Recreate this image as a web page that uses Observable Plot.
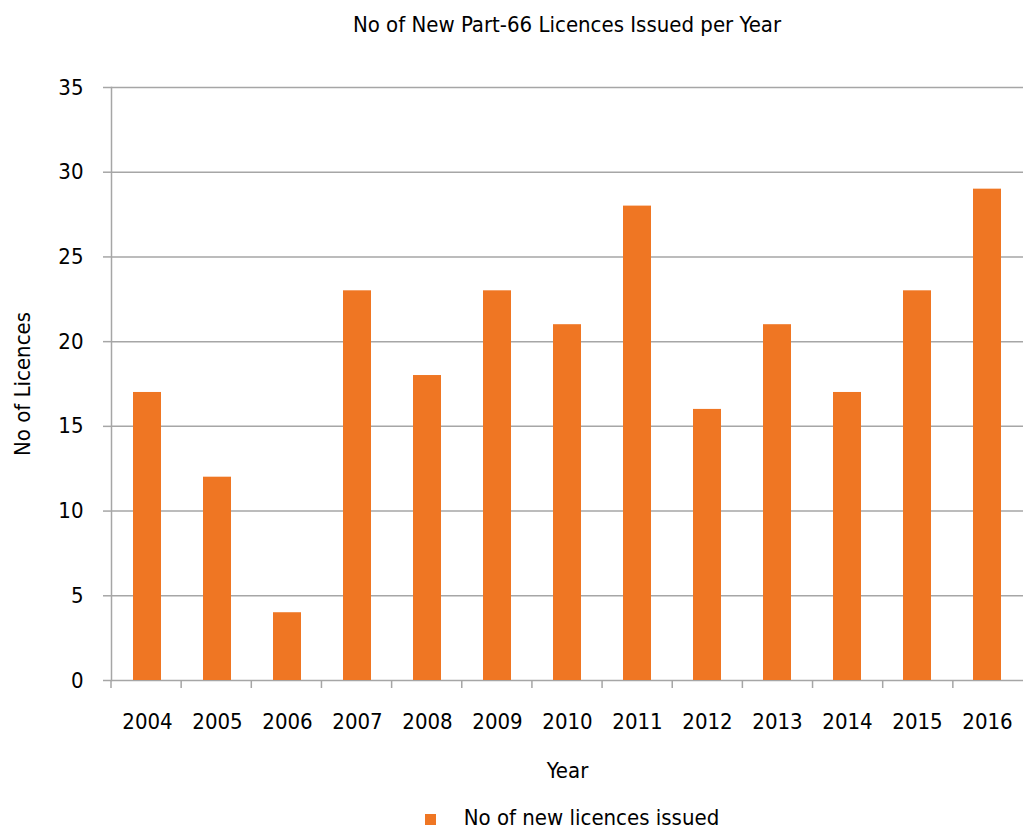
<!DOCTYPE html>
<html>
<head>
<meta charset="utf-8">
<script src="https://cdn.jsdelivr.net/npm/d3@7"></script>
<script src="https://cdn.jsdelivr.net/npm/@observablehq/plot@0.6"></script>
<style>
  html, body { margin: 0; padding: 0; background: #fff; }
  body { width: 1023px; height: 830px; position: relative; overflow: hidden;
         font-family: "Liberation Sans Narrow", "DejaVu Sans Condensed", sans-serif; color: #000; }
  #title { position: absolute; top: 0; left: 111px; width: 912px; height: 50px; line-height: 50px;
           text-align: center; font-size: 22px; }
  #chart { position: absolute; top: 50px; left: 0; }
  #legend { position: absolute; top: 802px; left: 116px; width: 912px; height: 30px;
            display: flex; justify-content: center; align-items: center; gap: 28px; font-size: 22px; }
  #legend .sw { width: 11px; height: 11px; margin-top: 4px; }
</style>
</head>
<body>
<div id="title"></div>
<div id="chart"></div>
<div id="legend"></div>
<script>
const chartTitle = "No of New Part-66 Licences Issued per Year";
const yLabel = "No of Licences";
const xLabel = "Year";
const seriesName = "No of new licences issued";
const years = ["2004","2005","2006","2007","2008","2009","2010","2011","2012","2013","2014","2015","2016"];
const licences = [17, 12, 4, 23, 18, 23, 21, 28, 16, 21, 17, 23, 29];
const yTicks = [0, 5, 10, 15, 20, 25, 30, 35];

const barColor = "#EF7623";
const gridColor = "#A6A6A6";

const data = years.map((y, i) => ({year: y, value: licences[i]}));

document.getElementById("title").textContent = chartTitle;

// category boundary ticks below the x axis (at band edges, like the original)
function boundaryTicks() {
  return (index, scales, values, dims) => {
    const g = d3.create("svg:g");
    const n = years.length;
    const left = dims.marginLeft;
    const step = (dims.width - dims.marginLeft - dims.marginRight) / n;
    const y0 = dims.height - dims.marginBottom;
    for (let i = 0; i < n; i++) {
      const x = left + i * step;
      g.append("line")
        .attr("x1", x).attr("x2", x)
        .attr("y1", y0).attr("y2", y0 + 8)
        .attr("stroke", gridColor).attr("stroke-width", 1.5);
    }
    return g.node();
  };
}

const plot = Plot.plot({
  width: 1023,
  height: 740,
  marginLeft: 111,
  marginRight: 0,
  marginTop: 37,
  marginBottom: 110,
  style: {fontFamily: '"Liberation Sans Narrow", "DejaVu Sans Condensed", sans-serif', background: "white", overflow: "visible"},
  x: {domain: years, paddingInner: 0.6, paddingOuter: 0.3, label: null},
  y: {domain: [0, 35], label: null},
  marks: [
    Plot.gridY(yTicks, {stroke: gridColor, strokeOpacity: 1, strokeWidth: 1.5}),
    Plot.frame({anchor: "left", stroke: gridColor, strokeWidth: 1.5}),
    Plot.barY(data, {x: "year", y: "value", fill: barColor}),
    Plot.axisY(yTicks, {tickSize: 8, tickPadding: 20, stroke: gridColor, strokeWidth: 1.5, fontSize: 22, fill: "#000", label: null, tickFormat: d => String(d)}),
    Plot.axisX({tickSize: 0, tickPadding: 33, fontSize: 22, fill: "#000", label: null}),
    boundaryTicks(),
    Plot.text([yLabel], {frameAnchor: "left", dx: -89, rotate: -90, textAnchor: "middle", fontSize: 22, fill: "#000"}),
    Plot.text([xLabel], {frameAnchor: "bottom", dy: 97, fontSize: 22, fill: "#000"})
  ]
});
document.getElementById("chart").appendChild(plot);

const legend = document.getElementById("legend");
const sw = document.createElement("div");
sw.className = "sw";
sw.style.background = barColor;
const lt = document.createElement("span");
lt.textContent = seriesName;
legend.appendChild(sw);
legend.appendChild(lt);
</script>
</body>
</html>
